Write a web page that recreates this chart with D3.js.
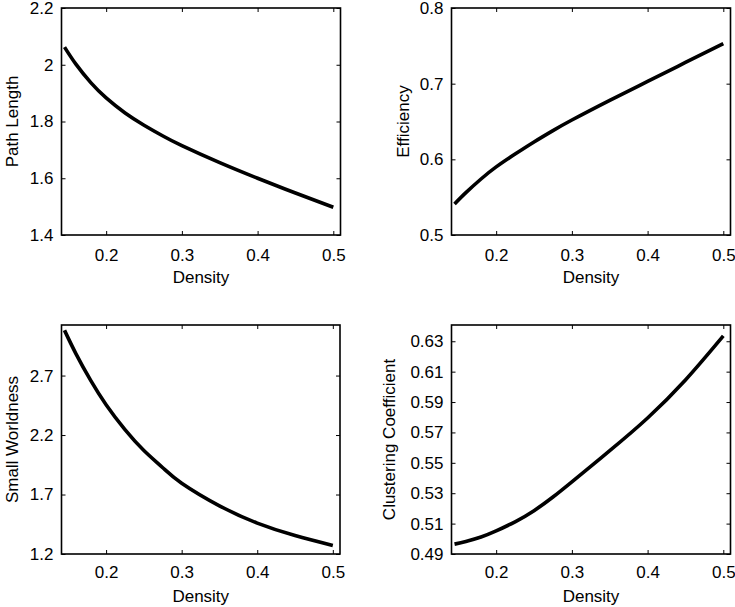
<!DOCTYPE html>
<html><head><meta charset="utf-8">
<script src="https://cdn.jsdelivr.net/npm/d3@7"></script>
<style>html,body{margin:0;padding:0;background:#fff}svg{display:block}</style>
</head><body>
<script>
const density = [0.145, 0.16, 0.18, 0.2, 0.225, 0.25, 0.275, 0.3, 0.35, 0.4, 0.45, 0.5];
const pathLength = [2.062, 2.002, 1.936, 1.883, 1.83, 1.787, 1.749, 1.715, 1.655, 1.6, 1.548, 1.498];
const efficiency = [0.541, 0.556, 0.574, 0.59, 0.607, 0.623, 0.638, 0.652, 0.678, 0.703, 0.728, 0.753];
const smallWorldness = [3.08, 2.885, 2.655, 2.455, 2.245, 2.07, 1.925, 1.795, 1.605, 1.46, 1.355, 1.272];
const clustering = [0.4965, 0.4983, 0.5012, 0.5052, 0.5112, 0.5185, 0.5275, 0.5375, 0.558, 0.5795, 0.6045, 0.6335];
const xTicks = [0.2, 0.3, 0.4, 0.5];
const pathTicks = [1.4, 1.6, 1.8, 2.0, 2.2];
const effTicks = [0.5, 0.6, 0.7, 0.8];
const swTicks = [1.2, 1.7, 2.2, 2.7];
const ccTicks = [0.49, 0.51, 0.53, 0.55, 0.57, 0.59, 0.61, 0.63];
const xLabel = "Density";

const W = 735, H = 607;
const svg = d3.select("body").append("svg").attr("width", W).attr("height", H);
const font = "'Liberation Sans', Arial, Helvetica, sans-serif";
const fs = 17;

const panels = [
  {x0: 61.5, x1: 340.5, y0: 8, y1: 235, ydom: [1.4, 2.2], yt: pathTicks, vals: pathLength, label: "Path Length", fmt: d3.format("~g"), lx: 18, pad: 14},
  {x0: 451.5, x1: 730.5, y0: 8, y1: 235, ydom: [0.5, 0.8], yt: effTicks, vals: efficiency, label: "Efficiency", fmt: d3.format(".1f"), lx: 409, pad: 14},
  {x0: 61.5, x1: 340, y0: 325, y1: 554, ydom: [1.2, 3.125], yt: swTicks, vals: smallWorldness, label: "Small Worldness", fmt: d3.format(".1f"), lx: 18, pad: 12},
  {x0: 451.5, x1: 730.5, y0: 325, y1: 554, ydom: [0.49, 0.6407], yt: ccTicks, vals: clustering, label: "Clustering Coefficient", fmt: d3.format(".2f"), lx: 395, pad: 12}
];

panels.forEach(p => {
  const x = d3.scaleLinear().domain([0.141, 0.5095]).range([p.x0, p.x1]);
  const y = d3.scaleLinear().domain(p.ydom).range([p.y1, p.y0]);
  const g = svg.append("g");
  const tl = 4;
  const bottom = d3.axisBottom(x).tickValues(xTicks).tickSize(-tl).tickFormat(d3.format(".1f")).tickPadding(p.pad);
  const top = d3.axisTop(x).tickValues(xTicks).tickSize(-tl).tickFormat("");
  const left = d3.axisLeft(y).tickValues(p.yt).tickSize(-tl).tickFormat(p.fmt).tickPadding(8);
  const right = d3.axisRight(y).tickValues(p.yt).tickSize(-tl).tickFormat("");
  const gb = g.append("g").attr("transform", `translate(0,${p.y1})`).call(bottom);
  const gt = g.append("g").attr("transform", `translate(0,${p.y0})`).call(top);
  const gl = g.append("g").attr("transform", `translate(${p.x0},0)`).call(left);
  const gr = g.append("g").attr("transform", `translate(${p.x1},0)`).call(right);
  [gb, gt, gl, gr].forEach(a => {
    a.select(".domain").remove();
    a.selectAll("line").attr("stroke", "#000").attr("stroke-width", 1);
    a.selectAll("text").attr("font-family", font).attr("font-size", fs).attr("fill", "#000");
  });
  g.append("rect").attr("x", p.x0).attr("y", p.y0).attr("width", p.x1 - p.x0).attr("height", p.y1 - p.y0)
    .attr("fill", "none").attr("stroke", "#000").attr("stroke-width", 1.6);
  const line = d3.line().x((d, i) => x(density[i])).y(d => y(d)).curve(d3.curveNatural);
  g.append("path").datum(p.vals).attr("d", line).attr("fill", "none").attr("stroke", "#000")
    .attr("stroke-width", 3.6).attr("stroke-linecap", "butt");
  g.append("text").attr("x", (p.x0 + p.x1) / 2).attr("y", p.y1 + 48).attr("text-anchor", "middle")
    .attr("font-family", font).attr("font-size", fs).text(xLabel);
  g.append("text").attr("transform", `translate(${p.lx},${(p.y0 + p.y1) / 2}) rotate(-90)`)
    .attr("text-anchor", "middle").attr("font-family", font).attr("font-size", fs).text(p.label);
});
</script>
</body></html>
